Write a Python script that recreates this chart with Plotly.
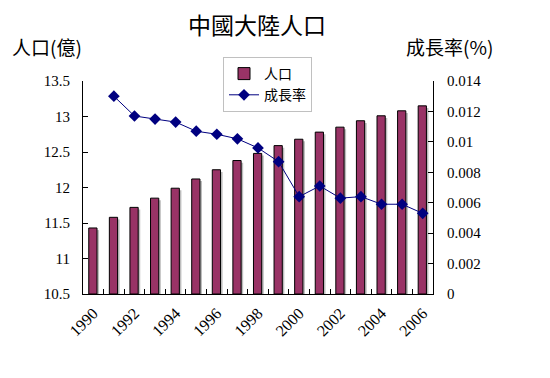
import plotly.graph_objects as go

years = list(range(1990, 2007))
population = [11.43, 11.58, 11.72, 11.85, 11.99, 12.12, 12.25, 12.38, 12.48, 12.59,
              12.68, 12.78, 12.85, 12.94, 13.01, 13.08, 13.15]
rate_years = list(range(1991, 2007))
growth_rate = [0.0130, 0.0117, 0.0115, 0.0113, 0.0107, 0.0105, 0.0102, 0.0096, 0.0087,
               0.0064, 0.0071, 0.0063, 0.0064, 0.0059, 0.0059, 0.0053]
left_ticks = [10.5, 11, 11.5, 12, 12.5, 13, 13.5]
right_ticks = [0, 0.002, 0.004, 0.006, 0.008, 0.01, 0.012, 0.014]
right_labels = ["0", "0.002", "0.004", "0.006", "0.008", "0.01", "0.012", "0.014"]
x_label_years = list(range(1990, 2007, 2))

SERIF = "'Liberation Serif'"
CJK = "Noto Sans CJK TC"

W, H = 542, 370
L, T, PW, PH = 75, 73, 350, 213

fig = go.Figure()

# shadow of bars
fig.add_trace(go.Bar(
    x=years, y=[p - 0.03 - 10.45 for p in population], base=10.45, width=0.40, offset=-0.12,
    marker=dict(color="#bdbdbd", line=dict(width=0)),
    showlegend=False, hoverinfo="skip", xaxis="x", yaxis="y"))

fig.add_trace(go.Bar(
    x=years, y=[p - 10.5 for p in population], base=10.5, width=0.40, offset=-0.22,
    name="人口",
    marker=dict(color="#993366", line=dict(color="#000000", width=1)),
    xaxis="x", yaxis="y"))

fig.add_trace(go.Scatter(
    x=rate_years, y=growth_rate, name="成長率", mode="lines+markers",
    line=dict(color="#000080", width=1),
    marker=dict(symbol="diamond", size=9, color="#000080"),
    xaxis="x", yaxis="y2"))

# invisible trace to activate the label axis
fig.add_trace(go.Scatter(x=[1990], y=[10.5], xaxis="x2", yaxis="y", mode="markers",
                         marker=dict(opacity=0), showlegend=False, hoverinfo="skip"))

fig.update_layout(
    width=W, height=H,
    margin=dict(l=L, r=W - L - PW, t=T, b=H - T - PH, autoexpand=False),
    paper_bgcolor="white", plot_bgcolor="white",
    barmode="overlay",
    font=dict(family=SERIF, size=15, color="#000000"),
    title=dict(text="中國大陸人口", xref="paper", x=0.497, xanchor="center",
               y=1 - 18 / H, yanchor="middle",
               font=dict(family=CJK, size=23, color="#000000")),
    showlegend=True,
    legend=dict(x=(215 - L) / PW, y=(T + PH - 49) / PH, xanchor="left", yanchor="top",
                bgcolor="white", bordercolor="#c0c0c0", borderwidth=1,
                font=dict(family=CJK, size=14), tracegroupgap=0),
    xaxis=dict(range=[1989.5, 2006.5], tickmode="linear", tick0=1989.5, dtick=1,
               ticks="inside", ticklen=5, tickcolor="#000000", automargin=False,
               showticklabels=False, showline=True, linecolor="#000000", linewidth=1,
               showgrid=False, zeroline=False),
    xaxis2=dict(range=[1989.5, 2006.5], overlaying="x", anchor="y", side="bottom",
                tickmode="array", tickvals=x_label_years,
                ticktext=[str(y) for y in x_label_years], automargin=False,
                tickangle=-45, ticks="", ticklabelstandoff=6,
                tickfont=dict(family=SERIF, size=16),
                showline=False, showgrid=False, zeroline=False),
    yaxis=dict(range=[10.5, 13.5], tickmode="array", tickvals=left_ticks,
               ticks="inside", ticklen=5, tickcolor="#000000", automargin=False,
               showline=True, linecolor="#000000", linewidth=1,
               showgrid=False, zeroline=False, ticklabelstandoff=9,
               tickfont=dict(family=SERIF, size=15)),
    yaxis2=dict(range=[0, 0.014], tickmode="array", tickvals=right_ticks,
                ticktext=right_labels, overlaying="y", side="right", anchor="x",
                ticks="inside", ticklen=5, tickcolor="#000000", automargin=False,
                showline=True, linecolor="#000000", linewidth=1,
                showgrid=False, zeroline=False, ticklabelstandoff=10,
                tickfont=dict(family=SERIF, size=15)),
    annotations=[
        dict(text="人口(億)", xref="paper", yref="paper", x=(39 - L) / PW,
             y=(T + PH - 39) / PH, xanchor="center", yanchor="middle", showarrow=False,
             font=dict(family=CJK, size=19)),
        dict(text="成長率(%)", xref="paper", yref="paper", x=(441 - L) / PW,
             y=(T + PH - 39) / PH, xanchor="center", yanchor="middle", showarrow=False,
             font=dict(family=CJK, size=19)),
    ],
)

fig.write_html("out.html")
